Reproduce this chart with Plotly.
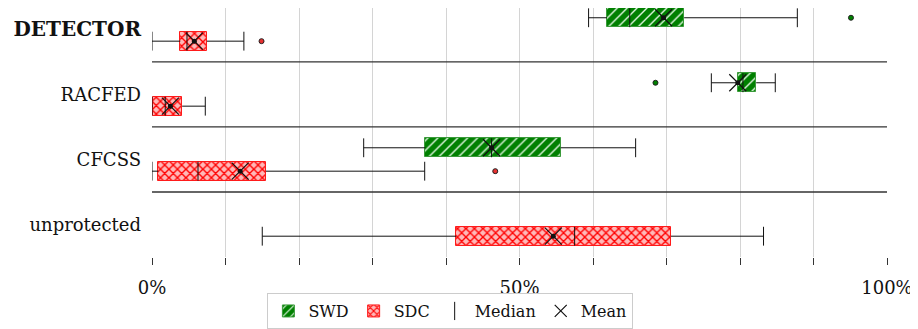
import plotly.graph_objects as go

categories = ["DETECTOR", "RACFED", "CFCSS", "unprotected"]
cat_labels = ['<span style="font-size:20px"><b>DETECTOR</b></span>', "RACFED", "CFCSS", "unprotected"]

swd_wlo = [59.4, 76.1, 28.8, None]
swd_q1 = [61.9, 79.7, 37.2, None]
swd_med = [65.0, 80.4, 46.2, None]
swd_q3 = [72.4, 82.2, 55.6, None]
swd_whi = [87.8, 84.8, 65.8, None]
swd_mean = [69.6, 79.7, 46.2, None]
swd_out = [[95.1], [68.5], [], []]

sdc_wlo = [0.0, 0.0, 0.0, 15.0]
sdc_q1 = [3.85, 0.1, 0.86, 41.4]
sdc_med = [4.76, 1.8, 6.26, 57.5]
sdc_q3 = [7.48, 4.1, 15.5, 70.6]
sdc_whi = [12.5, 7.25, 37.1, 83.2]
sdc_mean = [5.76, 2.5, 12.0, 54.6]
sdc_out = [[14.9], [], [46.7], []]

x_tickvals = [0, 50, 100]
x_ticktext = ["0%", "50%", "100%"]

FONT = "DejaVu Serif"
OFF = 0.18
BH = 0.29
GREEN = "#008000"

fig = go.Figure()

series = [
    ("SWD", -OFF, swd_wlo, swd_q1, swd_med, swd_q3, swd_whi, swd_mean, swd_out,
     dict(shape="/", bgcolor=GREEN, fgcolor="#e0f4e0", size=7, solidity=0.2),
     "#3a9a3a", GREEN),
    ("SDC", OFF, sdc_wlo, sdc_q1, sdc_med, sdc_q3, sdc_whi, sdc_mean, sdc_out,
     dict(shape="x", bgcolor="#ffb8b8", fgcolor="#ff0000", size=6, solidity=0.4),
     "#ff1a1a", "#e83030"),
]

for name, off, wlo, q1, med, q3, whi, mean, outs, pat, border, outcol in series:
    ys, xs_base, xs_len = [], [], []
    wx, wy, mx, my, cx, cy, ox, oy = [], [], [], [], [], [], [], []
    for i in range(len(categories)):
        if q1[i] is None:
            continue
        y = i + off
        ys.append(y)
        xs_base.append(q1[i])
        xs_len.append(q3[i] - q1[i])
        wx += [wlo[i], q1[i], None, q3[i], whi[i], None]
        wy += [y, y, None, y, y, None]
        wx += [wlo[i], wlo[i], None, whi[i], whi[i], None]
        wy += [y - BH / 2, y + BH / 2, None, y - BH / 2, y + BH / 2, None]
        mx += [med[i], med[i], None]
        my += [y - BH / 2, y + BH / 2, None]
        cx.append(mean[i])
        cy.append(y)
        for o in outs[i]:
            ox.append(o)
            oy.append(y)
    fig.add_trace(go.Scatter(x=wx, y=wy, mode="lines", line=dict(color="#111", width=1),
                             showlegend=False, hoverinfo="skip"))
    fig.add_trace(go.Bar(x=xs_len, base=xs_base, y=ys, orientation="h", width=BH,
                         name=name,
                         marker=dict(color=pat["bgcolor"], line=dict(color=border, width=1),
                                     pattern=dict(shape=pat["shape"], bgcolor=pat["bgcolor"],
                                                  fgcolor=pat["fgcolor"], size=pat["size"],
                                                  solidity=pat["solidity"], fillmode="replace"))))
    fig.add_trace(go.Scatter(x=mx, y=my, mode="lines", line=dict(color="#111", width=1),
                             showlegend=False, hoverinfo="skip"))
    fig.add_trace(go.Scatter(x=cx, y=cy, mode="markers",
                             marker=dict(symbol="x-thin", size=17, line=dict(color="#111", width=1.2)),
                             showlegend=False))
    fig.add_trace(go.Scatter(x=cx, y=cy, mode="markers",
                             marker=dict(symbol="circle", size=5, color="#111"),
                             showlegend=False))
    fig.add_trace(go.Scatter(x=ox, y=oy, mode="markers",
                             marker=dict(symbol="circle", size=5, color=outcol,
                                         line=dict(color="#222", width=1)),
                             showlegend=False))

fig.add_trace(go.Scatter(x=[None], y=[None], mode="markers", name="Median",
                         marker=dict(symbol="line-ns", size=13, line=dict(color="#111", width=1))))
fig.add_trace(go.Scatter(x=[None], y=[None], mode="markers", name="Mean",
                         marker=dict(symbol="x-thin", size=12, line=dict(color="#111", width=1.2))))

for k in range(len(categories) - 1):
    fig.add_shape(type="line", xref="paper", x0=0, x1=1, yref="y", y0=k + 0.5, y1=k + 0.5,
                  line=dict(color="#333", width=1.3))

# page body has an 8px default margin, so the figure is 8px smaller and margins shifted
fig.update_layout(
    width=910, height=321,
    margin=dict(l=144, r=31, t=0, b=72, autoexpand=False),
    plot_bgcolor="white", paper_bgcolor="white",
    barmode="overlay", bargap=0,
    font=dict(family=FONT, size=18, color="#111"),
    showlegend=True,
    legend=dict(orientation="h", x=0.157, xanchor="left",
                yref="container", y=0.112, yanchor="top",
                bordercolor="#cccccc", borderwidth=1, font=dict(size=16),
                itemwidth=30, tracegroupgap=0),
)
fig.update_xaxes(range=[0, 100], tickvals=x_tickvals, ticktext=x_ticktext,
                 showgrid=True, gridcolor="#d4d4d4", gridwidth=1,
                 ticks="outside", ticklen=7, tickcolor="#333", tickwidth=1,
                 minor=dict(dtick=10, tick0=0, ticks="outside", ticklen=7, tickcolor="#333",
                            showgrid=True, gridcolor="#d4d4d4"),
                 showline=False, zeroline=False, fixedrange=True, automargin=False,
                 ticklabelstandoff=7,
                 tickfont=dict(size=18, family=FONT))
fig.update_yaxes(range=[3.5, -0.33], tickvals=list(range(len(categories))), ticktext=cat_labels,
                 showgrid=False, zeroline=False, showline=False, ticks="", automargin=False,
                 ticklabelstandoff=10, tickfont=dict(size=18, family=FONT))

fig.write_html("out.html")
